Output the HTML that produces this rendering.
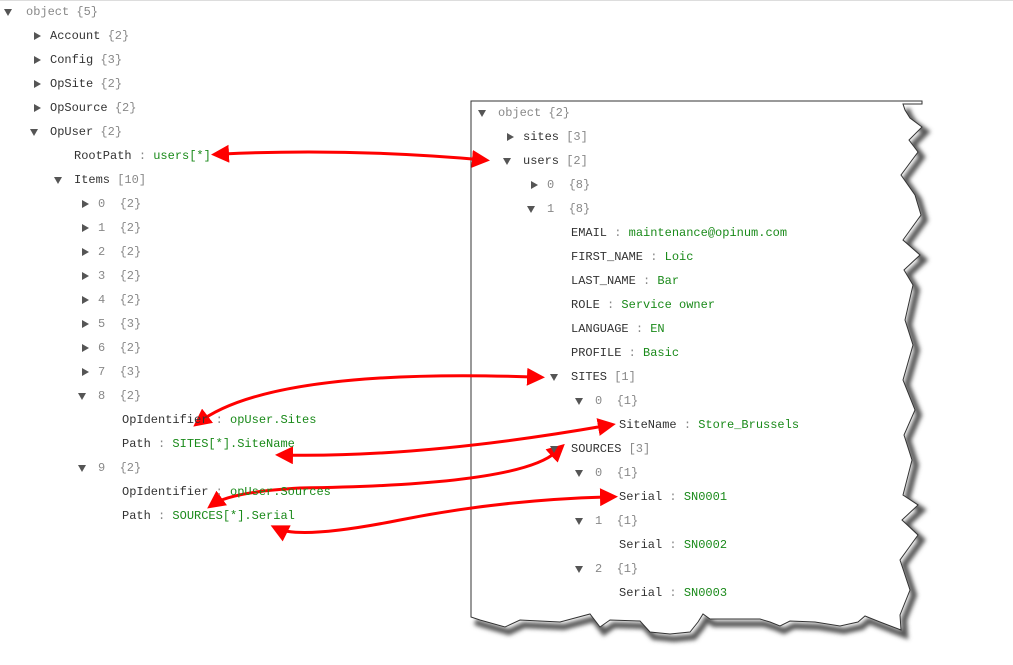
<!DOCTYPE html>
<html><head><meta charset="utf-8"><style>
html,body{margin:0;padding:0;background:#fff;width:1013px;height:665px;overflow:hidden;position:relative}
.t{position:absolute;font-family:"Liberation Mono",monospace;font-size:12px;line-height:14px;color:#333;white-space:pre}
.g{color:#888}.v{color:#1a8a1a}
.a{position:absolute;width:0;height:0}
.r{border-top:4px solid transparent;border-bottom:4px solid transparent;border-left:7px solid #555}
.d{border-left:4px solid transparent;border-right:4px solid transparent;border-top:7px solid #555}
</style></head><body>
<div style="position:absolute;left:0;top:0;width:1013px;height:1px;background:#ddd"></div>
<svg width="1013" height="665" style="position:absolute;left:0;top:0">
<defs><filter id="sh" x="-20%" y="-20%" width="140%" height="140%"><feGaussianBlur stdDeviation="2"/></filter>
<marker id="ah" markerWidth="6" markerHeight="6" refX="4" refY="3" orient="auto" markerUnits="strokeWidth"><path d="M0,0 L6,3 L0,6 z" fill="#f00"/></marker>
<marker id="as" markerWidth="6" markerHeight="6" refX="2" refY="3" orient="auto-start-reverse" markerUnits="strokeWidth"><path d="M0,0 L6,3 L0,6 z" fill="#f00"/></marker></defs>
<g transform="translate(4,5)" filter="url(#sh)">
<path d="M903,104 L905,110 L910,118 L922,127 L909,140 L918,152 L901,175 L915,195 L921,215 L903,240 L920,255 L904,270 L913,285 L905,320 L913,345 L903,380 L915,410 L904,435 L912,460 L903,495 L918,505 L902,520 L918,535 L900,560 L910,590 L900,615 L901,630 L880,622 L865,616 L858,622 L840,626 L815,622 L790,621 L780,626 L770,622 L760,619 L710,619 L703,614 L698,622 L690,632 L670,634 L650,632 L640,621 L610,620 L600,627 L590,614 L560,622 L520,620 L505,627 L480,620 L471,617" fill="none" stroke="#555" stroke-width="6"/>
</g>
<path d="M471,617 L471,101 L922,101 L922,104 L903,104 L905,110 L910,118 L922,127 L909,140 L918,152 L901,175 L915,195 L921,215 L903,240 L920,255 L904,270 L913,285 L905,320 L913,345 L903,380 L915,410 L904,435 L912,460 L903,495 L918,505 L902,520 L918,535 L900,560 L910,590 L900,615 L901,630 L880,622 L865,616 L858,622 L840,626 L815,622 L790,621 L780,626 L770,622 L760,619 L710,619 L703,614 L698,622 L690,632 L670,634 L650,632 L640,621 L610,620 L600,627 L590,614 L560,622 L520,620 L505,627 L480,620 L471,617 Z" fill="#fff" stroke="#333" stroke-width="1"/>
<g fill="none" stroke="#f00" stroke-width="3">
<path d="M223,154 Q350,148 484,160" marker-start="url(#as)" marker-end="url(#ah)"/>
<path d="M533,377 Q270,368 198,423" marker-start="url(#as)" marker-end="url(#ah)"/>
<path d="M604,426 Q420,458 281,455" marker-start="url(#as)" marker-end="url(#ah)"/>
<path d="M556,452 Q520,485 300,488 Q230,492 212,505" marker-start="url(#as)" marker-end="url(#ah)"/>
<path d="M606,497 Q500,500 400,520 Q300,540 276,528" marker-start="url(#as)" marker-end="url(#ah)"/>
</g>
</svg>
<div class="a d" style="left:4px;top:9px"></div><div class="t g" style="left:26px;top:5px">object {5}</div>
<div class="a r" style="left:34px;top:32px"></div><div class="t" style="left:50px;top:29px">Account <span class="g">{2}</span></div>
<div class="a r" style="left:34px;top:56px"></div><div class="t" style="left:50px;top:53px">Config <span class="g">{3}</span></div>
<div class="a r" style="left:34px;top:80px"></div><div class="t" style="left:50px;top:77px">OpSite <span class="g">{2}</span></div>
<div class="a r" style="left:34px;top:104px"></div><div class="t" style="left:50px;top:101px">OpSource <span class="g">{2}</span></div>
<div class="a d" style="left:30px;top:129px"></div><div class="t" style="left:50px;top:125px">OpUser <span class="g">{2}</span></div>
<div class="t" style="left:74px;top:149px">RootPath <span class="g">:</span> <span class="v">users[*]</span></div>
<div class="a d" style="left:54px;top:177px"></div><div class="t" style="left:74px;top:173px">Items <span class="g">[10]</span></div>
<div class="a r" style="left:82px;top:200px"></div><div class="t g" style="left:98px;top:197px">0  {2}</div>
<div class="a r" style="left:82px;top:224px"></div><div class="t g" style="left:98px;top:221px">1  {2}</div>
<div class="a r" style="left:82px;top:248px"></div><div class="t g" style="left:98px;top:245px">2  {2}</div>
<div class="a r" style="left:82px;top:272px"></div><div class="t g" style="left:98px;top:269px">3  {2}</div>
<div class="a r" style="left:82px;top:296px"></div><div class="t g" style="left:98px;top:293px">4  {2}</div>
<div class="a r" style="left:82px;top:320px"></div><div class="t g" style="left:98px;top:317px">5  {3}</div>
<div class="a r" style="left:82px;top:344px"></div><div class="t g" style="left:98px;top:341px">6  {2}</div>
<div class="a r" style="left:82px;top:368px"></div><div class="t g" style="left:98px;top:365px">7  {3}</div>
<div class="a d" style="left:78px;top:393px"></div><div class="t g" style="left:98px;top:389px">8  {2}</div>
<div class="t" style="left:122px;top:413px">OpIdentifier <span class="g">:</span> <span class="v">opUser.Sites</span></div>
<div class="t" style="left:122px;top:437px">Path <span class="g">:</span> <span class="v">SITES[*].SiteName</span></div>
<div class="a d" style="left:78px;top:465px"></div><div class="t g" style="left:98px;top:461px">9  {2}</div>
<div class="t" style="left:122px;top:485px">OpIdentifier <span class="g">:</span> <span class="v">opUser.Sources</span></div>
<div class="t" style="left:122px;top:509px">Path <span class="g">:</span> <span class="v">SOURCES[*].Serial</span></div>
<div class="a d" style="left:478px;top:110px"></div><div class="t g" style="left:498px;top:106px">object {2}</div>
<div class="a r" style="left:507px;top:133px"></div><div class="t" style="left:523px;top:130px">sites <span class="g">[3]</span></div>
<div class="a d" style="left:503px;top:158px"></div><div class="t" style="left:523px;top:154px">users <span class="g">[2]</span></div>
<div class="a r" style="left:531px;top:181px"></div><div class="t g" style="left:547px;top:178px">0  {8}</div>
<div class="a d" style="left:527px;top:206px"></div><div class="t g" style="left:547px;top:202px">1  {8}</div>
<div class="t" style="left:571px;top:226px">EMAIL <span class="g">:</span> <span class="v">maintenance@opinum.com</span></div>
<div class="t" style="left:571px;top:250px">FIRST_NAME <span class="g">:</span> <span class="v">Loic</span></div>
<div class="t" style="left:571px;top:274px">LAST_NAME <span class="g">:</span> <span class="v">Bar</span></div>
<div class="t" style="left:571px;top:298px">ROLE <span class="g">:</span> <span class="v">Service owner</span></div>
<div class="t" style="left:571px;top:322px">LANGUAGE <span class="g">:</span> <span class="v">EN</span></div>
<div class="t" style="left:571px;top:346px">PROFILE <span class="g">:</span> <span class="v">Basic</span></div>
<div class="a d" style="left:550px;top:374px"></div><div class="t" style="left:571px;top:370px">SITES <span class="g">[1]</span></div>
<div class="a d" style="left:575px;top:398px"></div><div class="t g" style="left:595px;top:394px">0  {1}</div>
<div class="t" style="left:619px;top:418px">SiteName <span class="g">:</span> <span class="v">Store_Brussels</span></div>
<div class="a d" style="left:550px;top:446px"></div><div class="t" style="left:571px;top:442px">SOURCES <span class="g">[3]</span></div>
<div class="a d" style="left:575px;top:470px"></div><div class="t g" style="left:595px;top:466px">0  {1}</div>
<div class="t" style="left:619px;top:490px">Serial <span class="g">:</span> <span class="v">SN0001</span></div>
<div class="a d" style="left:575px;top:518px"></div><div class="t g" style="left:595px;top:514px">1  {1}</div>
<div class="t" style="left:619px;top:538px">Serial <span class="g">:</span> <span class="v">SN0002</span></div>
<div class="a d" style="left:575px;top:566px"></div><div class="t g" style="left:595px;top:562px">2  {1}</div>
<div class="t" style="left:619px;top:586px">Serial <span class="g">:</span> <span class="v">SN0003</span></div>
</body></html>
